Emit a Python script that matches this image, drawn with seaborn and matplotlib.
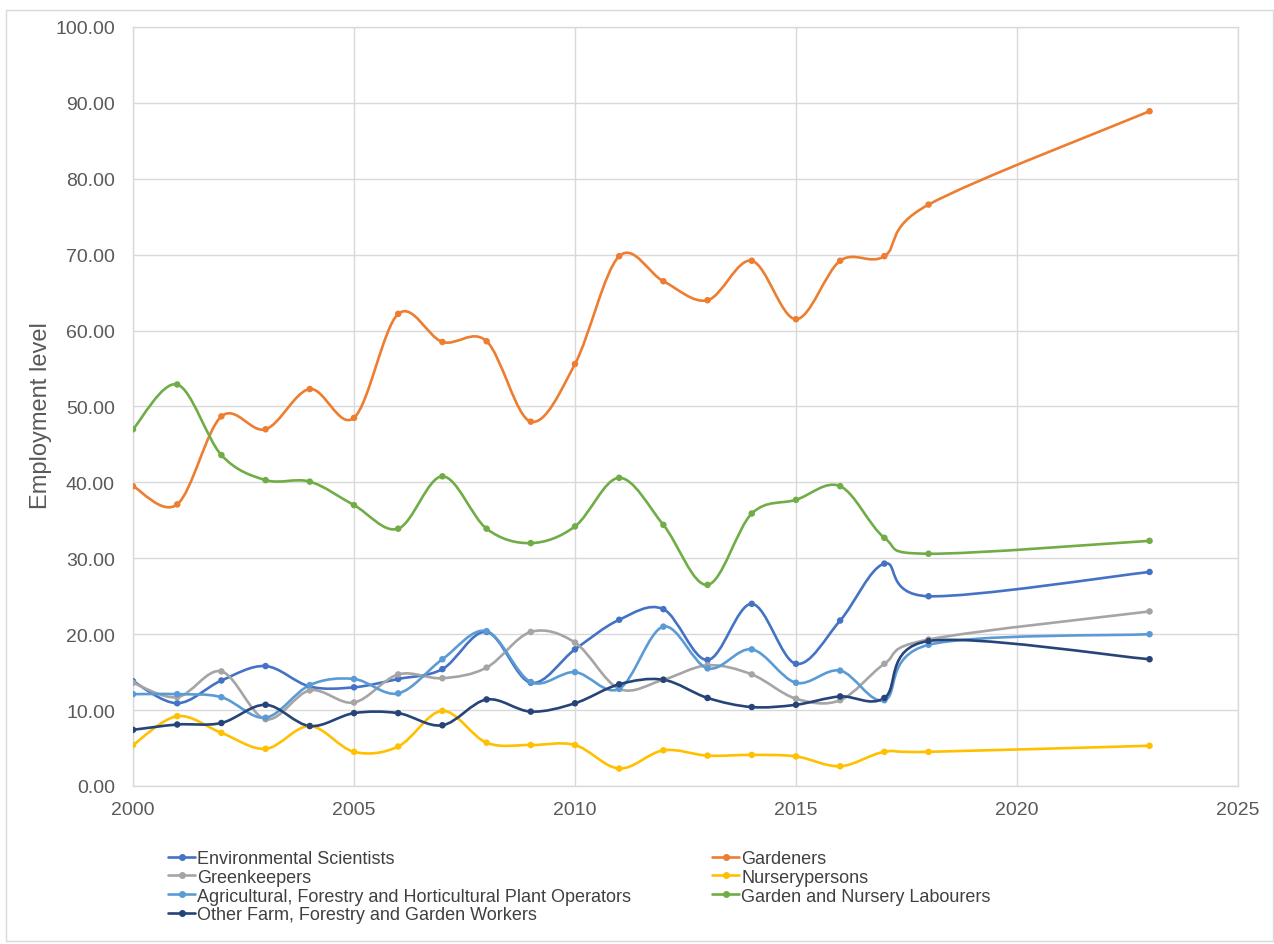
import numpy as np
import pandas as pd
import seaborn as sns
import matplotlib.pyplot as plt
from matplotlib.path import Path
from matplotlib.patches import PathPatch, Rectangle
from matplotlib.lines import Line2D

years = [2000, 2001, 2002, 2003, 2004, 2005, 2006, 2007, 2008, 2009,
         2010, 2011, 2012, 2013, 2014, 2015, 2016, 2017, 2018, 2023]

env_scientists = [13.8, 10.9, 13.9, 15.8, 13.1, 13.0, 14.1, 15.4, 20.3, 13.6,
                  18.0, 21.9, 23.3, 16.6, 24.0, 16.1, 21.8, 29.3, 25.0, 28.2]
gardeners = [39.5, 37.1, 48.7, 47.0, 52.3, 48.5, 62.2, 58.5, 58.6, 48.0,
             55.6, 69.8, 66.5, 64.0, 69.2, 61.5, 69.2, 69.8, 76.6, 88.9]
greenkeepers = [13.6, 11.7, 15.1, 8.8, 12.6, 11.0, 14.7, 14.2, 15.6, 20.3,
                18.9, 12.8, 14.0, 15.9, 14.7, 11.5, 11.3, 16.1, 19.3, 23.0]
nurserypersons = [5.4, 9.2, 7.0, 4.9, 7.9, 4.5, 5.2, 9.9, 5.7, 5.4,
                  5.4, 2.3, 4.7, 4.0, 4.1, 3.9, 2.6, 4.5, 4.5, 5.3]
agri_operators = [12.1, 12.1, 11.7, 9.0, 13.3, 14.1, 12.2, 16.7, 20.4, 13.7,
                  15.0, 12.8, 21.0, 15.5, 18.0, 13.6, 15.2, 11.3, 18.6, 20.0]
labourers = [47.0, 52.9, 43.6, 40.3, 40.1, 37.0, 33.9, 40.8, 33.9, 32.0,
             34.2, 40.6, 34.4, 26.5, 35.9, 37.7, 39.5, 32.7, 30.6, 32.3]
other_workers = [7.4, 8.1, 8.3, 10.7, 7.9, 9.6, 9.6, 8.0, 11.4, 9.8,
                 10.9, 13.4, 14.0, 11.6, 10.4, 10.7, 11.8, 11.6, 19.1, 16.7]

series_names = ["Environmental Scientists", "Gardeners", "Greenkeepers", "Nurserypersons",
                "Agricultural, Forestry and Horticultural Plant Operators",
                "Garden and Nursery Labourers", "Other Farm, Forestry and Garden Workers"]
series_values = [env_scientists, gardeners, greenkeepers, nurserypersons,
                 agri_operators, labourers, other_workers]
colors = ["#4472C4", "#ED7D31", "#A5A5A5", "#FFC000", "#5B9BD5", "#70AD47", "#264478"]
palette = dict(zip(series_names, colors))

df = pd.concat([pd.DataFrame({"year": years, "value": v, "series": n})
                for n, v in zip(series_names, series_values)], ignore_index=True)

sns.set_style("whitegrid")
plt.rcParams["font.family"] = ["Liberation Sans", "DejaVu Sans"]

fig = plt.figure(figsize=(12.74, 9.45), dpi=100)
ax = fig.add_axes([0.1044, 0.1672, 0.8673, 0.8032])


def smooth_path(x, y):
    # Catmull-Rom style bezier, like Excel's "smoothed line"
    pts = np.column_stack([x, y]).astype(float)
    n = len(pts)
    verts = [pts[0]]
    codes = [Path.MOVETO]
    for i in range(n - 1):
        p0 = pts[max(i - 1, 0)]
        p1 = pts[i]
        p2 = pts[i + 1]
        p3 = pts[min(i + 2, n - 1)]
        verts += [p1 + (p2 - p0) / 6, p2 - (p3 - p1) / 6, p2]
        codes += [Path.CURVE4] * 3
    return Path(verts, codes)


for name in series_names:
    sub = df[df["series"] == name]
    ax.add_patch(PathPatch(smooth_path(sub["year"], sub["value"]), facecolor="none",
                           edgecolor=palette[name], lw=1.9, zorder=2, capstyle="round"))

sns.scatterplot(data=df, x="year", y="value", hue="series", palette=palette,
                s=22, edgecolor="none", legend=False, zorder=3, ax=ax)

ax.set_xlim(2000, 2025)
ax.set_ylim(0, 100)
ax.set_xticks(range(2000, 2026, 5))
ax.set_yticks(range(0, 101, 10))
ax.set_yticklabels([f"{v:.2f}" for v in range(0, 101, 10)])
ax.grid(True, color="#d9d9d9", lw=1)
for sp in ax.spines.values():
    sp.set_color("#d9d9d9")
    sp.set_linewidth(1)
ax.tick_params(axis="both", length=0, labelsize=14, labelcolor="#595959")
ax.tick_params(axis="y", pad=13)
ax.tick_params(axis="x", pad=11)
ax.set_xlabel("")
ax.set_ylabel("Employment level", fontsize=17, color="#595959")
ax.yaxis.set_label_coords(-0.073, 0.49)

order = [0, 2, 4, 6, 1, 3, 5]
handles = [Line2D([], [], color=colors[i], lw=1.9, marker="o", markersize=4)
           for i in order]
fig.legend(handles, [series_names[i] for i in order], ncol=2, frameon=False,
           loc="upper left", bbox_to_anchor=(168 / 1274, 1 - 851 / 945),
           borderaxespad=0, borderpad=0, fontsize=13, labelcolor="#404040",
           handlelength=1.5, handletextpad=0.1, labelspacing=0.1, columnspacing=4.5)

fig.patches.append(Rectangle((6 / 1274, 3 / 945), 1267 / 1274, 931 / 945,
                             transform=fig.transFigure, fill=False,
                             edgecolor="#d9d9d9", lw=1))

fig.savefig("out.png", dpi=100)
